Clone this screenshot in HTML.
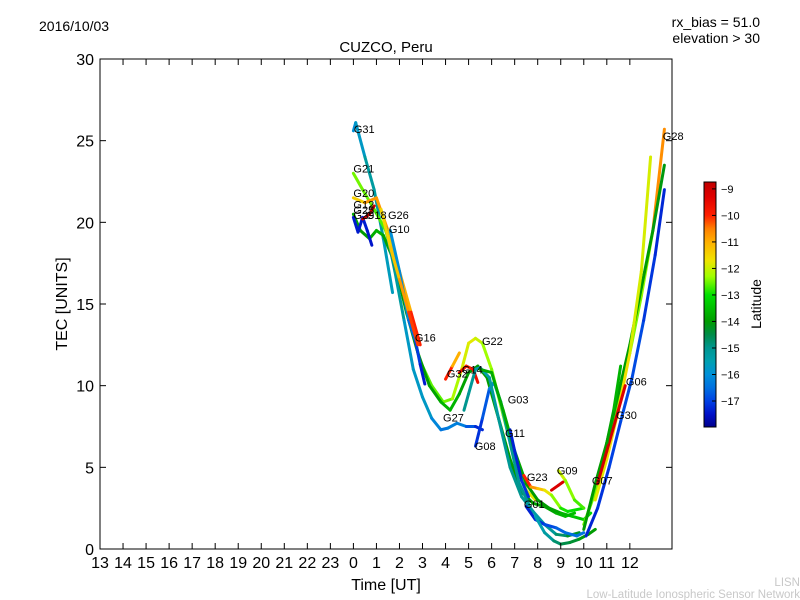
<!DOCTYPE html>
<html><head><meta charset="utf-8"><style>
body{margin:0;background:#fff;}
svg{display:block;font-family:"Liberation Sans",sans-serif;}
</style></head><body>
<svg id="chart" width="800" height="600" viewBox="0 0 800 600">
<defs>
<linearGradient id="cmap" x1="0" y1="1" x2="0" y2="0"></linearGradient>
</defs>
<text x="39" y="31" font-size="14">2016/10/03</text>
<text x="760" y="27" font-size="14" text-anchor="end">rx_bias = 51.0</text>
<text x="760" y="43" font-size="14" text-anchor="end">elevation &gt; 30</text>
<text x="386" y="52" font-size="15" text-anchor="middle">CUZCO, Peru</text>
<g id="marks"></g>
<g id="axes"></g>
<rect x="100" y="59" width="572" height="490" fill="none" stroke="#000" stroke-width="1"/>
<text x="386" y="590" font-size="16" text-anchor="middle">Time [UT]</text>
<text transform="translate(67,304) rotate(-90)" font-size="16" text-anchor="middle">TEC [UNITS]</text>
<rect x="704" y="182" width="12" height="245" fill="url(#cmap)" stroke="#000" stroke-width="1"/>
<g id="cbar"></g>
<text transform="translate(761,304) rotate(-90)" font-size="14" text-anchor="middle">Latitude</text>
<text x="800" y="586" font-size="11.5" fill="#c8c8c8" text-anchor="end">LISN</text>
<text x="800" y="598" font-size="11.5" fill="#c8c8c8" text-anchor="end">Low-Latitude Ionospheric Sensor Network</text>
</svg>
<script>
const yTicks=[0,5,10,15,20,25,30];
const xTicks=[-11,-10,-9,-8,-7,-6,-5,-4,-3,-2,-1,0,1,2,3,4,5,6,7,8,9,10,11,12];
const xTickLabels=["13","14","15","16","17","18","19","20","21","22","23","0","1","2","3","4","5","6","7","8","9","10","11","12"];
const cbTicks=[-9,-10,-11,-12,-13,-14,-15,-16,-17];
const trackNames=["G31","G21","G20","G12","G29","G18","G10","G16","G26","G32","G14","G08","G27","G03","G11","G23","G09","G09b","G01","G25","G28","G07","G06","G30","G05","G22"];
const trackTimes=[
[0,0.1,0.5,0.9,1.3,1.7],
[0,0.4,0.9,1.4,1.9,2.4,2.9,3.4,3.9,4.3,4.7,5.0,5.3,5.6,6.0,6.5,7.0,7.5,7.9],
[0,0.5,1,1.5,2,2.5,2.9],
[0,0.3,0.7,1.0,1.3,1.8,2.3,2.8,3.3,3.8,4.2,4.6,5.0,5.4,5.8,6.3,6.8,7.3,7.8,8.3,8.8,9.2,9.6],
[0,0.2,0.4,0.6,0.8],
[0.4,0.7,0.9],
[1.4,1.8,2.2,2.6,3,3.4,3.8,4.1,4.5,4.9,5.3,5.6],
[1.6,2,2.4,2.7,2.9,3.1],
[1.2,1.6,2.0,2.4,2.8],
[4.0,4.3,4.6],
[4.6,4.9,5.2,5.4],
[5.3,5.6,5.9,6.1,6.4,6.8,7.2,7.6],
[4.8,5.0,5.3,5.5,5.9,6.3,6.8,7.3,7.8,8.3,8.8,9.3,9.8],
[5.5,6,6.5,7,7.5,8,8.5,9,9.5,10,10.3],
[6.8,7.0,7.3,7.6],
[7.4,7.7,8.0,8.3,8.6,9.0,9.3,10],
[8.6,8.9,9.1],
[8.9,9.2,9.6,10.0],
[7.5,7.9,8.3,8.8,9.2,9.7,10.0],
[7.9,8.3,8.7,9,9.4,9.8,10.2,10.5],
[10,10.5,11,11.5,12,12.5,13,13.5],
[10.1,10.6,11.1,11.6,12.1,12.6,13.1,13.5],
[10,10.5,11,11.5,12,12.5,13,13.5],
[10.5,11,11.5,12,12.5,12.9],
[10.6,11.0,11.5,11.8],
[11,11.3,11.6]];
const trackTec=[
[25.6,26.1,24,22,19,15.7],
[23,22,20.8,19.5,17,14.2,11.5,10,9,9.2,11,12.6,12.9,12.6,11,8.2,5.5,3.6,3.0],
[21.5,21.2,21.5,19.5,17,14.5,12.5],
[20.5,19.5,19,19.5,19.2,17.5,14.5,12,10,9,8.5,9.5,10.8,11.2,10.5,8,5.5,3.5,2.8,2.6,2.2,2.0,2.2],
[20.3,19.4,20.3,19.5,18.6],
[20.2,20.5,21],
[19.7,17,14,11,9.3,8.0,7.3,7.4,7.7,7.5,7.5,7.3],
[19.5,17,14,12.7,11.3,10.1],
[20.8,18.5,16.5,14.5,12.5],
[10.4,11.2,12],
[10.8,11.2,11,10.2],
[6.3,8,9.8,10.2,9,6.5,4,2.8],
[8.5,9.5,11,11.1,10.5,8,5,3.2,2.3,1.5,0.9,0.8,1.0],
[11,10.8,8.5,6,4,3,2.5,2.2,2,1.8,2.2],
[7.3,6,4.2,3.2],
[4.5,3.8,3.7,3.6,3.3,2.5,2.3,2.5],
[3.6,3.9,4.1],
[4.8,4.2,3,2.5],
[2.6,1.8,1.5,1.3,1.0,0.8,1.0],
[2.0,1.0,0.5,0.3,0.4,0.6,0.9,1.2],
[1.5,3.5,6,9,12,15.5,19.5,25.7],
[0.8,2.5,5,7.8,10.5,14,18,22],
[1.2,4,6.5,9.5,12.5,16,19.5,23.5],
[3,5.5,8.5,12,17,24],
[4,6,8.5,10],
[6.5,8.5,11.2]];
const trackLat=[
[-16,-16,-15.5,-15,-15.5,-15.8],
[-12.5,-12.5,-12.6,-12.7,-12.5,-12.3,-12.6,-12.6,-12.6,-12.4,-12,-11.8,-11.8,-12.2,-12.4,-12.5,-12.3,-11.8,-11.8],
[-11.8,-11,-10.5,-11,-11.5,-10.5,-9.5],
[-13.8,-14,-14,-13.5,-13.8,-14,-14,-14,-14,-13.8,-13.5,-13.8,-14,-14,-14,-14,-14,-14,-14,-14,-13.8,-13.5,-13.5],
[-17.3,-17.5,-17.3,-17.4,-17.5],
[-9,-9,-9],
[-15,-15,-15.5,-16,-15.5,-16,-16.3,-16.5,-16,-16.5,-17,-17.5],
[-16,-16,-16.3,-16.8,-17.3,-17.5],
[-11.5,-11.5,-11,-10.5,-9.8],
[-9.5,-10.5,-11.5],
[-9.5,-9.8,-10,-9.2],
[-17.3,-17,-16.5,-16,-15.5,-15.2,-15,-15],
[-15,-15,-15.2,-15.5,-15.3,-15.2,-15,-15,-15.3,-15.3,-15,-14.5,-14],
[-13.8,-13.8,-13.8,-13.8,-14,-14,-14,-13.8,-13.5,-13.3,-13],
[-17.3,-17.3,-17.3,-17],
[-9.5,-10.5,-11,-11.5,-12,-12.8,-13,-13],
[-9.2,-9.2,-9.2],
[-11.8,-12.2,-12.6,-12.8],
[-17.3,-17.3,-17,-16.8,-16.5,-16.5,-16.3],
[-15.5,-15.5,-15,-14.5,-14.5,-14.2,-14,-14],
[-12.5,-12.5,-12.5,-12.5,-12.5,-12.4,-12.3,-9],
[-17.3,-17.3,-17,-17,-16.8,-17,-17.2,-17.3],
[-14,-14,-14,-14,-14,-14,-14,-14.2],
[-11.8,-11.8,-11.5,-11.8,-12,-11.8],
[-9,-9,-9,-9.5],
[-14,-13.8,-13.5]];
const labelNames=["G31","G21","G20","G12","G25","G29","G18","G26","G10","G16","G22","G32","G14","G03","G27","G11","G08","G23","G09","G01","G07","G30","G06","G28"];
const labelT=[0.02,0,0,0,0,0,0.54,1.5,1.54,2.67,5.58,4.06,4.71,6.7,3.89,6.58,5.27,7.53,8.83,7.4,10.35,11.4,11.83,13.43];
const labelTec=[25.7,23.3,21.8,21.1,20.75,20.45,20.45,20.45,19.6,12.95,12.75,10.75,11.0,9.15,8.05,7.1,6.3,4.4,4.8,2.75,4.2,8.2,10.25,25.3];

const NS="http://www.w3.org/2000/svg";
const X0=100,X1=672,Y0=549,Y1=59;
const xMin=-11,xMax=13.83,yMin=0,yMax=30;
function xs(t){return X0+(t-xMin)/(xMax-xMin)*(X1-X0);}
function ys(v){return Y0-(v-yMin)/(yMax-yMin)*(Y0-Y1);}
const cMin=-17.98,cMax=-8.74;
function cy(v){return 427-(v-cMin)/(cMax-cMin)*245;}
const cmStops=[[-17.98,[0,0,140]],[-17.5,[0,16,200]],[-17,[0,64,228]],[-16.5,[0,112,224]],[-16,[0,144,216]],[-15.5,[0,160,176]],[-15,[0,150,144]],[-14.5,[0,140,72]],[-14,[0,156,0]],[-13.5,[0,190,0]],[-13,[0,224,0]],[-12.3,[160,255,0]],[-11.7,[240,228,0]],[-11,[255,176,0]],[-10.5,[255,128,0]],[-10,[255,32,0]],[-9.3,[224,0,0]],[-8.74,[192,0,0]]];
function cmap(v){
  if(v<=cmStops[0][0])return 'rgb('+cmStops[0][1].join(',')+')';
  for(let i=0;i<cmStops.length-1;i++){
    const a=cmStops[i],b=cmStops[i+1];
    if(v<=b[0]){const f=(v-a[0])/(b[0]-a[0]);return 'rgb('+a[1].map((c,j)=>Math.round(c+(b[1][j]-c)*f)).join(',')+')';}
  }
  return 'rgb('+cmStops[cmStops.length-1][1].join(',')+')';
}
function mk(tag,attrs,parent){const e=document.createElementNS(NS,tag);for(const k in attrs)e.setAttribute(k,attrs[k]);parent.appendChild(e);return e;}
const grad=document.getElementById('cmap');
cmStops.forEach(s=>{mk('stop',{offset:(s[0]-cMin)/(cMax-cMin),'stop-color':'rgb('+s[1].join(',')+')'},grad);});
const axes=document.getElementById('axes');
const marks=document.getElementById('marks');
yTicks.forEach(v=>{
  const y=ys(v);
  const t1=mk('line',{x1:X0,x2:X0+6,y1:y,y2:y,stroke:'#000'},axes);
  
  
  const t2=mk('line',{x1:X1-6,x2:X1,y1:y,y2:y,stroke:'#000'},axes);
  
  
  const tx=mk('text',{x:X0-6,y:y+6,'font-size':16,'text-anchor':'end'},axes);
  tx.textContent=v;
  
  
});
xTicks.forEach((v,i)=>{
  const x=xs(v);
  const t1=mk('line',{x1:x,x2:x,y1:Y0,y2:Y0-6,stroke:'#000'},axes);
  
  
  const t2=mk('line',{x1:x,x2:x,y1:Y1,y2:Y1+6,stroke:'#000'},axes);
  
  
  const tx=mk('text',{x:x,y:568,'font-size':16,'text-anchor':'middle'},axes);
  tx.textContent=xTickLabels[i];
  
  
});
trackTimes.forEach((ts,k)=>{
  const g=mk('g',{},marks);
  
  
  for(let i=0;i<ts.length-1;i++){
    const lat=(trackLat[k][i]+trackLat[k][i+1])/2;
    const s=mk('line',{x1:xs(ts[i]),y1:ys(trackTec[k][i]),x2:xs(ts[i+1]),y2:ys(trackTec[k][i+1]),stroke:cmap(lat),'stroke-width':3,'stroke-linecap':'round'},g);
    
    
  }
});
labelNames.forEach((n,i)=>{
  const tx=mk('text',{x:xs(labelT[i]),y:ys(labelTec[i])+4,'font-size':11},marks);
  tx.textContent=n;
  
  
});
const cb=document.getElementById('cbar');
cbTicks.forEach(v=>{
  const y=cy(v);
  const l=mk('line',{x1:712,x2:716,y1:y,y2:y,stroke:'#000'},cb);
  
  
  const tx=mk('text',{x:721,y:y+4,'font-size':11},cb);
  tx.textContent='\u2212'+Math.abs(v);
  
  
});
</script>
</body></html>
